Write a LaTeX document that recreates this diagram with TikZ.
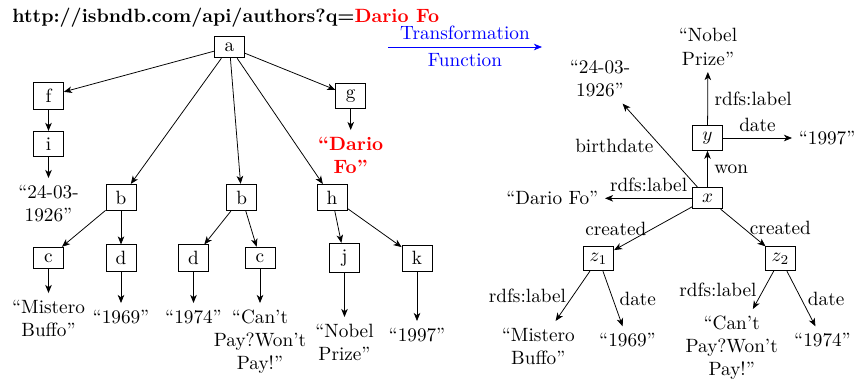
\documentclass[tikz,border=0pt]{standalone}
\usepackage{tikz}
\usetikzlibrary{arrows.meta}

\begin{document}
\begin{tikzpicture}[x=0.52pt,y=-0.52pt,>={Stealth[length=4.2pt,width=3.4pt,inset=1.2pt]},
  res/.style={draw,minimum width=15.6pt},
  lit/.style={align=center}]
  \useasboundingbox (0,0) rectangle (855,383);

  \node[anchor=base west,inner sep=0pt] (url) at (12,22) {\textbf{http://isbndb.com/api/authors?q=\textcolor{red}{Dario Fo}}};

  \coordinate (tf1) at (388,47);
  \coordinate (tf2) at (542,47);
  \draw[->,blue] (tf1) -- node[above]{Transformation} node[below]{Function} (tf2);

  % xml tree
  \node[res] (a)  at (229.5,47) {a};
  \node[res] (f)  at (48.5,96)  {f};
  \node[res] (g)  at (350.7,96) {g};
  \node[res] (i)  at (48.5,144) {i};
  \node[res] (b1) at (121,197.5)   {b};
  \node[res] (b2) at (241.7,197.5) {b};
  \node[res] (h)  at (332,197.5)   {h};
  \node[res] (c1) at (48.5,258)  {c};
  \node[res] (d1) at (121,258)   {d};
  \node[res] (d2) at (193.5,258) {d};
  \node[res] (c2) at (260,258)   {c};
  \node[res] (j)  at (344.5,258) {j};
  \node[res] (k)  at (417,258)   {k};

  \node[lit,anchor=north] (dt1) at (48.5,178) {“24-03-\\1926”};
  \node[lit,anchor=north,text=red,font=\bfseries] (dfo) at (350.7,130) {“Dario\\Fo”};
  \node[lit,anchor=north] (mb1) at (48.5,293) {“Mistero\\Buffo”};
  \node[lit,anchor=north] (ya1) at (121,303)   {“1969”};
  \node[lit,anchor=north] (yb1) at (193.5,303) {“1974”};
  \node[lit,anchor=north] (cp1) at (260,303)   {“Can’t\\Pay?Won’t\\Pay!”};
  \node[lit,anchor=north] (np1) at (344.5,317) {“Nobel\\Prize”};
  \node[lit,anchor=north] (yc1) at (417,321)   {“1997”};

  \foreach \p/\c in {a/f, a/g, a/b1, a/b2, a/h, f/i, i/dt1, g/dfo,
                     b1/c1, b1/d1, b2/d2, b2/c2, h/j, h/k,
                     c1/mb1, d1/ya1, d2/yb1, c2/cp1, j/np1, k/yc1}
    \draw[->] (\p) -- (\c);

  % rdf graph
  \node[res] (nx)  at (707.5,198.3) {$x$};
  \node[res] (ny)  at (707.5,138)   {$y$};
  \node[res] (nz1) at (598.5,258.7) {$z_1$};
  \node[res] (nz2) at (780.5,258.7) {$z_2$};

  \node[lit,anchor=south] (np2) at (708,72)    {“Nobel\\Prize”};
  \node[lit,anchor=west]  (yc2) at (792,138)   {“1997”};
  \node[lit]              (dt2) at (600,78.4)  {“24-03-\\1926”};
  \node[lit,anchor=east]  (df2) at (605,198.3) {“Dario Fo”};
  \node[lit,anchor=north] (mb2) at (538.3,321) {“Mistero\\Buffo”};
  \node[lit]              (ya2) at (627.5,340) {“1969”};
  \node[lit,anchor=north] (cp2) at (731.7,309) {“Can’t\\Pay?Won’t\\Pay!”};
  \node[lit]              (yb2) at (822.5,340) {“1974”};

  \draw[->] (nx) -- node[right]{won} (ny);
  \draw[->] (ny) -- node[right]{rdfs:label} (np2);
  \draw[->] (ny) -- node[above]{date} (yc2);
  \draw[->] (nx) -- node[left]{birthdate} (dt2);
  \draw[->] (nx) -- node[above]{rdfs:label} (df2);
  \draw[->] (nx) -- node[left]{created} (nz1);
  \draw[->] (nx) -- node[right]{created} (nz2);
  \draw[->] (nz1) -- node[left]{rdfs:label} (mb2);
  \draw[->] (nz1) -- node[right]{date} (ya2);
  \draw[->] (nz2) -- node[left]{rdfs:label} (cp2);
  \draw[->] (nz2) -- node[right]{date} (yb2);

\end{tikzpicture}
\end{document}
